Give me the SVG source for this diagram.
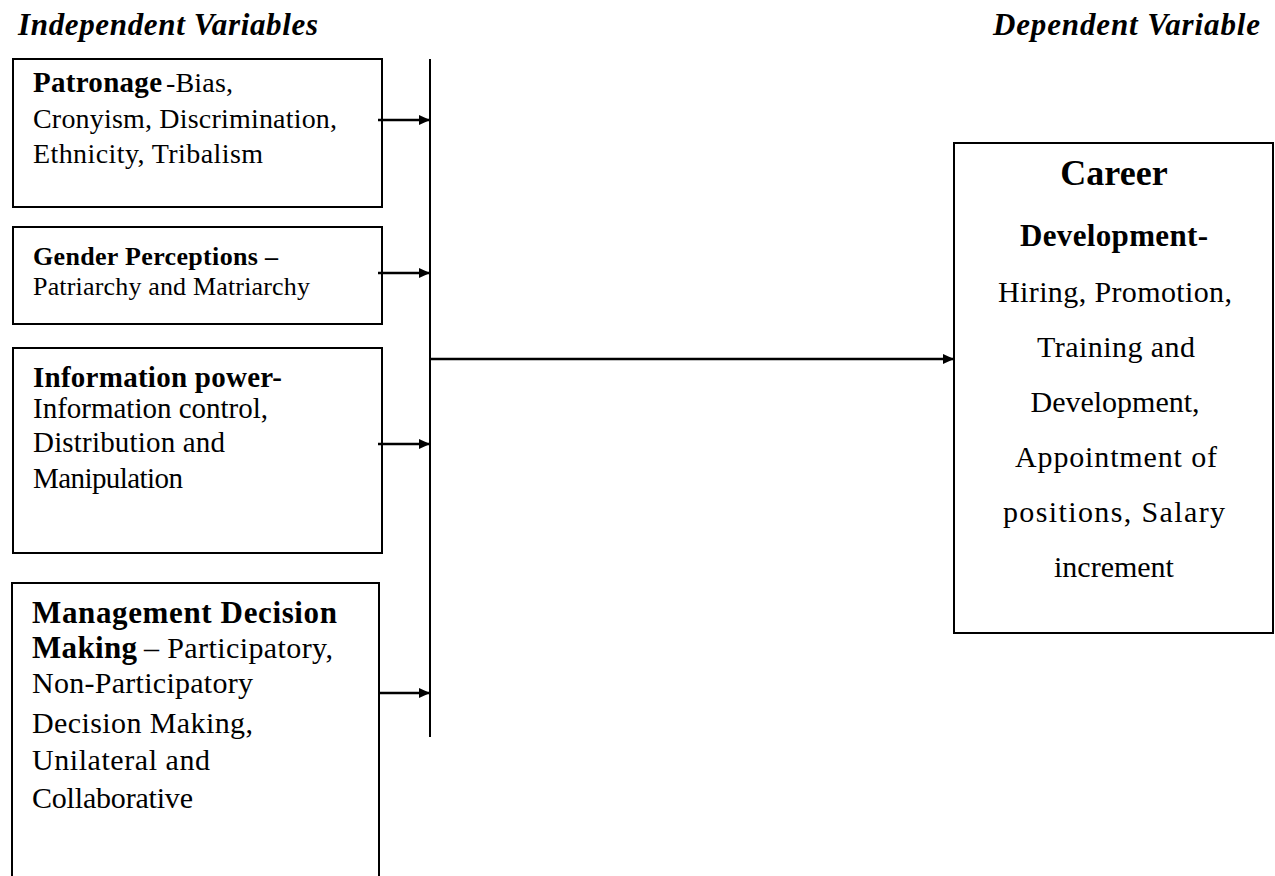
<svg xmlns="http://www.w3.org/2000/svg" width="1275" height="876" viewBox="0 0 1275 876">
<style>
text{font-family:"Liberation Serif","Times New Roman",serif;fill:#000}
.h{font-weight:bold;font-style:italic;font-size:31px}
.b{font-weight:bold;font-size:29px}
.b4{font-weight:bold;font-size:31px}
.r{font-size:28px}
.r3{font-size:29px}
.r4{font-size:30px}
.gb{font-weight:bold;font-size:26px}
.gr{font-size:26px}
.box{fill:#fff;stroke:#000;stroke-width:2}
.ln{fill:none;stroke:#000;stroke-width:2}
.ar{fill:none;stroke:#000;stroke-width:2.5;marker-end:url(#ah)}
.c{text-anchor:middle}
.cb{font-weight:bold;font-size:36px}
.db{font-weight:bold;font-size:31px}
.cr{font-size:30px}
</style>
<defs>
<marker id="ah" markerUnits="userSpaceOnUse" markerWidth="11" markerHeight="10" refX="11" refY="5" orient="auto">
<path d="M0,0 L11,5 L0,10 z" fill="#000"/>
</marker>
</defs>
<rect width="1275" height="876" fill="#fff"/>
<g id="headings">
<text class="h" x="18" y="35" textLength="300" lengthAdjust="spacing">Independent Variables</text>
<text class="h" x="993" y="35" textLength="267" lengthAdjust="spacing">Dependent Variable</text>
</g>
<g id="patronage">
<rect class="box" x="13" y="59" width="369" height="148"/>
<text class="b" x="33" y="92" textLength="129" lengthAdjust="spacing">Patronage</text>
<text class="r" x="166" y="92" textLength="67" lengthAdjust="spacing">-Bias,</text>
<text class="r" x="33" y="128" textLength="304" lengthAdjust="spacing">Cronyism, Discrimination,</text>
<text class="r" x="33" y="163" textLength="230" lengthAdjust="spacing">Ethnicity, Tribalism</text>
</g>
<g id="gender">
<rect class="box" x="13" y="227" width="369" height="97"/>
<text class="gb" x="33" y="265" textLength="245" lengthAdjust="spacing">Gender Perceptions –</text>
<text class="gr" x="33" y="295" textLength="277" lengthAdjust="spacing">Patriarchy and Matriarchy</text>
</g>
<g id="information">
<rect class="box" x="13" y="348" width="369" height="205"/>
<text class="b" x="33" y="387" textLength="249" lengthAdjust="spacing">Information power-</text>
<text class="r3" x="33" y="418" textLength="235" lengthAdjust="spacing">Information control,</text>
<text class="r3" x="33" y="452" textLength="192" lengthAdjust="spacing">Distribution and</text>
<text class="r3" x="33" y="488" textLength="150" lengthAdjust="spacing">Manipulation</text>
</g>
<g id="management">
<rect class="box" x="12" y="583" width="367" height="320"/>
<text class="b4" x="32" y="623" textLength="305" lengthAdjust="spacing">Management Decision</text>
<text class="b4" x="32" y="658" textLength="105" lengthAdjust="spacing">Making</text>
<text class="r4" x="144" y="658" textLength="189" lengthAdjust="spacing">– Participatory,</text>
<text class="r4" x="32" y="693" textLength="221" lengthAdjust="spacing">Non-Participatory</text>
<text class="r4" x="32" y="733" textLength="221" lengthAdjust="spacing">Decision Making,</text>
<text class="r4" x="32" y="770" textLength="178" lengthAdjust="spacing">Unilateral and</text>
<text class="r4" x="32" y="808" textLength="161" lengthAdjust="spacing">Collaborative</text>
</g>
<g id="career">
<rect class="box" x="954" y="143" width="319" height="490"/>
<text class="cb c" x="1114" y="185">Career</text>
<text class="db c" x="1114" y="246" textLength="188" lengthAdjust="spacing">Development-</text>
<text class="cr c" x="1115" y="302" textLength="234" lengthAdjust="spacing">Hiring, Promotion,</text>
<text class="cr c" x="1116" y="357" textLength="158" lengthAdjust="spacing">Training and</text>
<text class="cr c" x="1115" y="412" textLength="169" lengthAdjust="spacing">Development,</text>
<text class="cr c" x="1116" y="467" textLength="202" lengthAdjust="spacing">Appointment of</text>
<text class="cr c" x="1114" y="522" textLength="222" lengthAdjust="spacing">positions, Salary</text>
<text class="cr c" x="1114" y="577">increment</text>
</g>
<g id="connectors">
<line class="ln" x1="430" y1="59" x2="430" y2="737"/>
<line class="ar" x1="378" y1="120" x2="430" y2="120"/>
<line class="ar" x1="378" y1="273" x2="430" y2="273"/>
<line class="ar" x1="378" y1="444" x2="430" y2="444"/>
<line class="ar" x1="378" y1="693" x2="430" y2="693"/>
<line class="ar" x1="430" y1="359" x2="954" y2="359"/>
</g>
</svg>
